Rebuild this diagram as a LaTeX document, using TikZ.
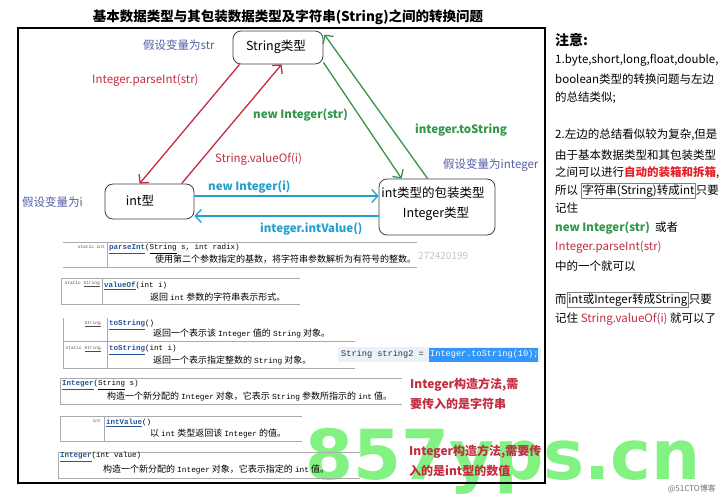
\documentclass[tikz,border=0pt]{standalone}
\usepackage{fontspec}
\setmainfont{Noto Sans CJK SC}
\setmonofont{Liberation Mono}
\newfontfamily\wmfont{DejaVu Sans}
\usetikzlibrary{arrows.meta,calc}
\definecolor{lbl}{RGB}{85,95,165}
\definecolor{redc}{RGB}{195,45,65}
\definecolor{brightred}{RGB}{230,30,40}
\definecolor{greenc}{RGB}{50,150,75}
\definecolor{bluec}{RGB}{35,160,205}
\definecolor{wm}{RGB}{130,242,130}
\definecolor{jdlink}{RGB}{35,85,150}
\definecolor{jdline}{RGB}{170,170,170}
\definecolor{codebg}{RGB}{234,241,248}
\definecolor{codehl}{RGB}{51,150,250}
\newcommand\jdl[1]{{\color{jdlink}\underline{\textbf{#1}}}}
\newcommand\jdm[1]{{\ttfamily\fontsize{7.8}{8}\selectfont #1}}
\setlength\fboxsep{1pt}
\setlength\fboxrule{0.6pt}
\begin{document}
\begin{tikzpicture}[x=1pt,y=-1pt,
  typebox/.style={draw=black!75, rounded corners=8pt, line width=0.8pt, inner sep=0pt},
  lab/.style={font=\fontsize{11.5}{13}\selectfont, inner sep=0pt, anchor=west},
  arr/.style={line width=1.3pt, -{Straight Barb[length=6pt,width=13pt]}},
  note/.style={font=\fontsize{11.5}{13}\selectfont, anchor=west, inner sep=0pt},
  jdtext/.style={font=\fontsize{9}{10}\selectfont, anchor=west, inner sep=0pt},
  jdcode/.style={font=\ttfamily\fontsize{7.5}{9}\selectfont, anchor=west, inner sep=0pt},
  jdtiny/.style={font=\ttfamily\fontsize{4.5}{6}\selectfont, anchor=east, inner sep=0pt, text=black!70},
  jdrule/.style={draw=jdline, line width=0.8pt},
  redbold/.style={font=\bfseries\fontsize{12}{14}\selectfont, text=redc, anchor=west, inner sep=0pt}]
\useasboundingbox (0,0) rectangle (721,500);
\fill[white] (0,0) rectangle (721,500);

% watermark
\node[font=\wmfont\bfseries\fontsize{69}{69}\selectfont, text=wm, anchor=base west, inner sep=0pt] (wmk) at (305,479) {857yps.cn};

% title
\node[font=\bfseries\fontsize{13.5}{15}\selectfont, inner sep=0pt] (title) at (288,17) {基本数据类型与其包装数据类型及字符串(String)之间的转换问题};

% frame
\draw[line width=1.6pt] (18,28) rectangle (545,483);

% type nodes
\node[typebox, minimum width=90pt, minimum height=33pt] (str) at (278,47.5) {};
\node[font=\fontsize{12.5}{14}\selectfont, inner sep=0pt] (strt) at (276,47) {String类型};
\node[typebox, minimum width=89pt, minimum height=35pt] (int) at (149.5,201.5) {};
\node[font=\fontsize{12.5}{14}\selectfont, inner sep=0pt] (intt) at (140,201) {int型};
\node[typebox, minimum width=116pt, minimum height=56pt] (intg) at (437,207) {};
\node[font=\fontsize{12.5}{14}\selectfont, inner sep=0pt] (intgt1) at (433,193) {int类型的包装类型};
\node[font=\fontsize{12.5}{14}\selectfont, inner sep=0pt] (intgt2) at (436,214) {Integer类型};

% arrows
\draw[arr, redc] ($(str.south west)+(7,0)$) -- ($(int.north west)+(35,0)$);
\draw[arr, redc] ($(int.north west)+(77,0)$) -- ($(str.south west)+(49,0)$);
\draw[arr, greenc] ($(str.south east)+(0,-2)$) -- ($(intg.north west)+(23,0)$);
\draw[arr, greenc] ($(intg.north west)+(49,0)$) -- ($(str.north east)+(1,4)$);
\draw[arr, bluec] ($(int.east)+(0,-5.5)$) -- ($(intg.west)+(0,-11)$);
\draw[arr, bluec] ($(intg.west)+(0,9)$) -- ($(int.east)+(0,14.5)$);

% labels
\node[lab, text=lbl] (l1) at (143,45) {假设变量为str};
\node[lab, text=redc] (l2) at (92,80) {Integer.parseInt(str)};
\node[lab, text=greenc, font=\bfseries\fontsize{11.5}{13}\selectfont] (l3) at (253,115) {new Integer(str)};
\node[lab, text=greenc, font=\bfseries\fontsize{11.5}{13}\selectfont] (l4) at (415,130) {integer.toString};
\node[lab, text=redc] (l5) at (215,159) {String.valueOf(i)};
\node[lab, text=lbl] (l6) at (443,165) {假设变量为integer};
\node[lab, text=lbl] (l7) at (22,202) {假设变量为i};
\node[lab, text=bluec, font=\bfseries\fontsize{11.5}{13}\selectfont] (l8) at (208,187) {new Integer(i)};
\node[lab, text=bluec, font=\bfseries\fontsize{11.5}{13}\selectfont] (l9) at (260,229) {integer.intValue()};

% javadoc 1: parseInt
\draw[jdrule] (63,242) -- (417,242) (63,267) -- (417,267) (107,242) -- (107,267);
\node[jdtiny] (j1a) at (105,247) {static int};
\node[jdcode] (j1b) at (109,249) {\jdl{parseInt}(\underline{String} s, int radix)};
\node[jdtext] (j1c) at (155,259) {使用第二个参数指定的基数，将字符串参数解析为有符号的整数。};
\node[jdtext, text=black!22, font=\rmfamily\fontsize{10}{11}\selectfont] (j1d) at (418,256) {272420199};

% javadoc 2: valueOf
\draw[jdrule] (61,278) -- (300,278) (61,304) -- (300,304) (61,278) -- (61,304) (102,278) -- (102,304);
\node[jdtiny] (j2a) at (100,284) {static \underline{String}};
\node[jdcode] (j2b) at (104,286) {\jdl{valueOf}(int i)};
\node[jdtext] (j2c) at (150,297) {返回 \jdm{int} 参数的字符串表示形式。};

% javadoc 3: toString
\draw[jdrule] (63,318) -- (63,368) (107,318) -- (107,368) (63,341) -- (355,341) (63,368) -- (355,368);
\node[jdtiny] (j3a) at (101,324) {\underline{String}};
\node[jdcode] (j3b) at (109,325) {\jdl{toString}()};
\node[jdtext] (j3c) at (153,334) {返回一个表示该 \jdm{Integer} 值的 \jdm{String} 对象。};
\node[jdtiny] (j3d) at (101,349) {static \underline{String}};
\node[jdcode] (j3e) at (109,350) {\jdl{toString}(int i)};
\node[jdtext] (j3f) at (153,360) {返回一个表示指定整数的 \jdm{String} 对象。};

% code snippet
\fill[codebg] (338,347) rectangle (541,362);
\fill[codehl] (429,347.5) rectangle (538,361.5);
\node[font=\ttfamily\fontsize{8.6}{10}\selectfont, anchor=west, inner sep=0pt, text=black!80] (c1) at (341,354.5) {String string2 =};
\node[font=\ttfamily\fontsize{8.6}{10}\selectfont, anchor=west, inner sep=0pt, text=white] (c2) at (430,354.5) {Integer.toString(10);};

% javadoc 4: Integer(String s)
\draw[jdrule] (60,378) -- (402,378) (60,404) -- (402,404) (60,378) -- (60,404);
\node[jdcode] (j4a) at (62,385) {\jdl{Integer}(\underline{String} s)};
\node[jdtext] (j4b) at (107,396) {构造一个新分配的 \jdm{Integer} 对象，它表示 \jdm{String} 参数所指示的 \jdm{int} 值。};
\node[redbold] (r1) at (410,385) {Integer构造方法,需};
\node[redbold] (r2) at (410,404) {要传入的是字符串};

% javadoc 5: intValue
\draw[jdrule] (60,416) -- (302,416) (60,441) -- (302,441) (60,416) -- (60,441) (104,416) -- (104,441);
\node[jdtiny] (j5a) at (101,421) {int};
\node[jdcode] (j5b) at (106,423) {\jdl{intValue}()};
\node[jdtext] (j5c) at (150,434) {以 \jdm{int} 类型返回该 \jdm{Integer} 的值。};

% javadoc 6: Integer(int value)
\draw[jdrule] (58,452) -- (360,452) (58,478) -- (360,478) (58,452) -- (58,478);
\node[jdcode] (j6a) at (60,457) {\jdl{Integer}(int value)};
\node[jdtext] (j6b) at (103,469) {构造一个新分配的 \jdm{Integer} 对象，它表示指定的 \jdm{int} 值。};
\node[redbold] (r3) at (409,452) {Integer构造方法,需要传};
\node[redbold] (r4) at (409,471) {入的是int型的数值};

% right column notes
\node[note, font=\bfseries\fontsize{14}{16}\selectfont] (n0) at (555,40) {注意:};
\node[note] (n1) at (555,60) {1.byte,short,long,float,double,};
\node[note] (n2) at (555,79) {boolean类型的转换问题与左边};
\node[note] (n3) at (555,98) {的总结类似;};
\node[note] (n4) at (555,135) {2.左边的总结看似较为复杂,但是};
\node[note] (n5) at (555,155) {由于基本数据类型和其包装类型};
\node[note] (n6) at (555,173) {之间可以进行{\color{brightred}\bfseries 自动的装箱和拆箱},};
\node[note] (n7) at (555,191) {所以 \fcolorbox{gray}{white}{字符串(String)转成int}只要};
\node[note] (n8) at (555,208) {记住};
\node[note] (n9) at (555,228) {{\color{greenc}\bfseries new Integer(str)}\ \ 或者};
\node[note] (n10) at (555,247) {{\color{redc}Integer.parseInt(str)}};
\node[note] (n11) at (555,266) {中的一个就可以};
\node[note] (n12) at (555,300) {而\fcolorbox{gray}{white}{int或Integer转成String}只要};
\node[note] (n13) at (555,319) {记住 {\color{redc}String.valueOf(i)} 就可以了};

% small watermark
\node[font=\fontsize{8}{9}\selectfont, text=black!55, anchor=east, inner sep=0pt] (cto) at (716,489) {@51CTO博客};
\end{tikzpicture}
\end{document}
